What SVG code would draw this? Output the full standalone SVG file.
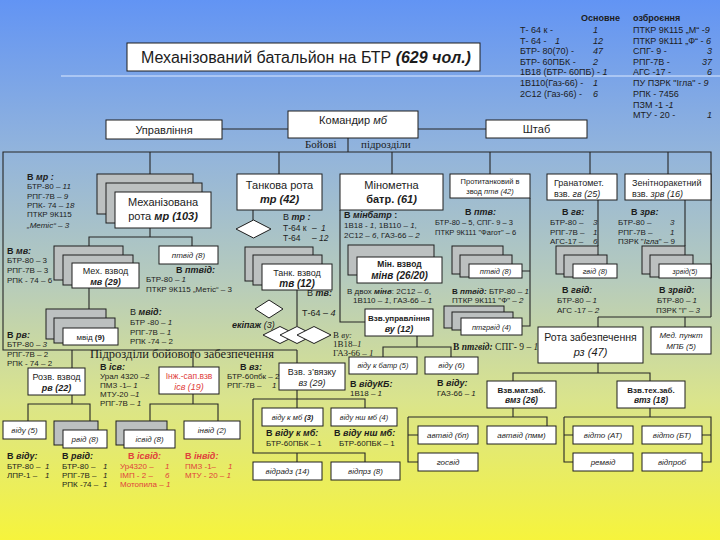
<svg xmlns="http://www.w3.org/2000/svg" width="720" height="540" viewBox="0 0 720 540">
<defs>
<linearGradient id="bg" x1="0" y1="0" x2="0" y2="1">
<stop offset="0" stop-color="#6294f4"/>
<stop offset="0.28" stop-color="#92b4dc"/>
<stop offset="0.52" stop-color="#b6cbbc"/>
<stop offset="0.74" stop-color="#dae48c"/>
<stop offset="1" stop-color="#f6f43c"/>
</linearGradient>
<style>
text{font-family:"Liberation Sans",Arial,sans-serif;fill:#1c1c1c;font-size:8px}
.sr{font-family:"Liberation Serif","Times New Roman",serif}
.bx{fill:#fff;stroke:#1e1e1e;stroke-width:1}
.gx{fill:#bcc0c0;stroke:#1e1e1e;stroke-width:1}
.ln{fill:none;stroke:#262626;stroke-width:1.1}
.dm{fill:#fff;stroke:#1e1e1e;stroke-width:1}
.c{text-anchor:middle}
.e{text-anchor:end}
.b{font-weight:bold}
.i{font-style:italic}
.bi{font-weight:bold;font-style:italic}
.r{fill:#e0403c}
.f7{font-size:7.5px}
.f9{font-size:9px}
.f10{font-size:10px}
.f11{font-size:11px}
</style>
</defs>
<rect width="720" height="540" fill="url(#bg)"/>
<path d="M61,76H720" stroke="#dce9ff" stroke-width="1" fill="none"/>

<g id="title">
<rect class="bx" x="127" y="43" width="353" height="28" stroke-width="1.4"/>
<text x="141" y="63" style="font-size:16px">Механізований батальйон на БТР <tspan class="bi">(629 чол.)</tspan></text>
</g>

<g id="armament">
<text x="581" y="21" class="b f9">Основне</text>
<text x="633" y="21" class="b f9">озброєння</text>
<text x="520" y="33" class="f9">Т- 64 к -<tspan x="593" class="i">1</tspan></text>
<text x="520" y="43.5" class="f9">Т- 64 -<tspan x="555" class="i">1</tspan><tspan x="593" class="i">12</tspan></text>
<text x="520" y="54" class="f9">БТР- 80(70) -<tspan x="593" class="i">47</tspan></text>
<text x="520" y="64.5" class="f9">БТР- 60ПБК -<tspan x="593" class="i">2</tspan></text>
<text x="520" y="75" class="f9">1В18 (БТР- 60ПБ) - <tspan class="i">1</tspan></text>
<text x="520" y="86" class="f9">1В110(Газ-66) -<tspan x="593" class="i">1</tspan></text>
<text x="520" y="97" class="f9">2С12 (Газ-66) -<tspan x="593" class="i">6</tspan></text>
<text x="633" y="33" class="f9">ПТКР 9К115 „М“ -<tspan class="i">9</tspan></text>
<text x="633" y="43.5" class="f9">ПТКР 9К111 „Ф“ - <tspan class="i">6</tspan></text>
<text x="633" y="54" class="f9">СПГ- 9 -</text><text x="712" y="54" class="f9 e i">3</text>
<text x="633" y="64.5" class="f9">РПГ-7В -</text><text x="712" y="64.5" class="f9 e i">37</text>
<text x="633" y="75" class="f9">АГС -17 -</text><text x="712" y="75" class="f9 e i">6</text>
<text x="633" y="86" class="f9">ПУ ПЗРК "Ігла" - <tspan class="i">9</tspan></text>
<text x="633" y="97" class="f9">РПК - 7456</text>
<text x="633" y="107.5" class="f9">ПЗМ -1 -<tspan class="i">1</tspan></text>
<text x="633" y="118" class="f9">МТУ - 20 -</text><text x="712" y="118" class="f9 e i">1</text>
</g>

<g id="connectors" class="ln">
<path d="M222,129H288M418,129H486"/>
<path d="M348,138V152"/>
<path d="M297,350H3V152H711V317"/>
<path d="M150,152V174M279,152V174M392,152V174M490,152V174M590,152V174M668,152V174"/>
<path d="M150,228V237M89,246V237H192V246"/>
<path d="M89,288V309"/>
<path d="M253,210V220"/>
<path d="M297,290V326"/>
<path d="M340,210V322H365"/>
<path d="M417,336V347M383,357V347H451V357"/>
<path d="M530,198V326H522M522,271H530"/>
<path d="M598,200V246"/>
<path d="M685,200V246"/>
<path d="M598,317H711M598,317V327M685,317V327"/>
<path d="M598,363V373M513,381V373H650V381"/>
<path d="M513,408V417M408,417H547V426M408,417V462H418M408,435H418"/>
<path d="M650,408V417M564,417H711V462H702M711,435H702M564,417V462H573M564,435H573"/>
<path d="M72,350V368M193,350V367M297,350V363"/>
<path d="M72,395V404M28,421V404H90V421"/>
<path d="M193,394V404M150,421V404H218V421"/>
<path d="M297,390V399M297,399V408M253,399H365V408M253,399V453H365V462M297,453V462"/>
</g>

<g id="kmb">
<rect class="bx" x="288" y="111" width="130" height="27"/>
<text class="c f11" x="353" y="124">Командир <tspan class="i">мб</tspan></text>
</g>
<g id="upr">
<rect class="bx" x="106" y="120" width="116" height="19"/>
<text class="c f11" x="164" y="133.5">Управління</text>
</g>
<g id="shtab">
<rect class="bx" x="486" y="120" width="101" height="18"/>
<text class="c f11" x="536.5" y="133">Штаб</text>
</g>
<g id="lbl-boiovi">
<text class="sr" x="305" y="148" style="font-size:11px">Бойові</text>
<text class="sr" x="361" y="148" style="font-size:11px">підрозділи</text>
</g>

<g id="mr">
<rect class="gx" x="97" y="174" width="96" height="40"/>
<rect class="gx" x="106" y="183" width="96" height="40"/>
<rect class="bx" x="115" y="192" width="96" height="36"/>
<text class="c f11" x="163" y="206">Механізована</text>
<text class="c f11" x="163" y="220">рота <tspan class="bi">мр (103)</tspan></text>
</g>
<g id="mr-notes">
<text x="27" y="180" class="f9"><tspan class="b">В </tspan><tspan class="bi">мр :</tspan></text>
<text x="27" y="189">БТР-80 – <tspan class="i">11</tspan></text>
<text x="27" y="199">РПГ-7В – <tspan class="i">9</tspan></text>
<text x="27" y="208">РПК- 74 – <tspan class="i">18</tspan></text>
<text x="27" y="217">ПТКР 9К115</text>
<text x="27" y="228"><tspan class="i">„Метіс“</tspan> – <tspan class="i">3</tspan></text>
<text x="7" y="254" class="f9"><tspan class="b">В </tspan><tspan class="bi">мв:</tspan></text>
<text x="7" y="263">БТР-80 – 3</text>
<text x="7" y="273">РПГ-7В – 3</text>
<text x="7" y="283">РПК - 74 – 6</text>
<text x="176" y="273" class="f9"><tspan class="b">В </tspan><tspan class="bi">птвід:</tspan></text>
<text x="146" y="282">БТР-80 – <tspan class="i">1</tspan></text>
<text x="146" y="292">ПТКР 9К115 „Метіс“ – 3</text>
<text x="130" y="315" class="f9">В <tspan class="bi">мвід:</tspan></text>
<text x="130" y="325">БТР -80 – <tspan class="i">1</tspan></text>
<text x="130" y="334.5">РПГ-7В – <tspan class="i">1</tspan></text>
<text x="130" y="344">РПК -74 – 2</text>
<text x="7" y="338" class="f9"><tspan class="b">В </tspan><tspan class="bi">рв:</tspan></text>
<text x="7" y="347">БТР-80 – <tspan class="i">3</tspan></text>
<text x="7" y="357">РПГ-7В – 2</text>
<text x="7" y="366">РПК - 74 – 2</text>
</g>
<g id="mv">
<rect class="gx" x="54" y="246" width="69" height="34"/>
<rect class="gx" x="63" y="255" width="70" height="30"/>
<rect class="bx" x="72" y="263" width="67" height="25"/>
<text class="c f9" x="105.5" y="274">Мех. взвод</text>
<text class="c f9 bi" x="105.5" y="285">мв (29)</text>
</g>
<g id="ptvid-mr">
<rect class="bx" x="159" y="246" width="59" height="18"/>
<text class="c i" x="188.5" y="258">птвід (8)</text>
</g>
<g id="mvid">
<rect class="gx" x="46" y="309" width="60" height="30"/>
<rect class="gx" x="54" y="318" width="61" height="25"/>
<rect class="bx" x="63" y="328" width="55" height="17"/>
<text class="c" x="90.5" y="339.5">мвід <tspan class="b">(9)</tspan></text>
</g>

<g id="tr">
<rect class="bx" x="237" y="174" width="85" height="36"/>
<text class="c f11" x="279.5" y="189">Танкова рота</text>
<text class="c f11 bi" x="279.5" y="203">тр (42)</text>
</g>
<g id="tr-tank"><polygon class="dm" points="236,229 253.5,220 271,229 253.5,238"/></g>
<g id="tr-notes">
<text x="283" y="220" class="f9">В <tspan class="bi">тр :</tspan></text>
<text x="283" y="230.5" style="font-size:8.5px">Т-64 к<tspan x="312">–</tspan><tspan x="321" class="i">1</tspan></text>
<text x="283" y="240.5" style="font-size:8.5px">Т-64<tspan x="312">–</tspan><tspan x="319" class="i">12</tspan></text>
<text x="307" y="296" class="f9">В <tspan class="bi">тв:</tspan></text>
<text x="302" y="316" class="f9">Т-64 – <tspan class="i">4</tspan></text>
<text x="232" y="328" class="f9"><tspan class="bi">екіпаж</tspan> <tspan class="i">(3)</tspan></text>
<text x="333" y="338" class="sr f9">В <tspan class="i">ву:</tspan></text>
<text x="333" y="347" class="sr f9">1В18–<tspan class="i">1</tspan></text>
<text x="333" y="356" class="sr f9">ГАЗ-66 – <tspan class="i">1</tspan></text>
</g>
<g id="tv">
<rect class="gx" x="245" y="247" width="68" height="34"/>
<rect class="gx" x="253" y="255" width="69" height="30"/>
<rect class="bx" x="262" y="264" width="70" height="26"/>
<text class="c f9" x="297" y="276">Танк. взвод</text>
<text class="c f10 bi" x="297" y="287">тв (12)</text>
</g>
<g id="tank-crew">
<polygon class="dm" points="255,309 269,300 283,309 269,318"/>
<polygon class="dm" points="263,335 280,326.5 297,335 280,343.5"/>
<polygon class="dm" points="280,335 297,326.5 314,335 297,343.5"/>
<polygon class="dm" points="297,335 314,326.5 331,335 314,343.5"/>
</g>

<g id="minbatr">
<rect class="bx" x="340" y="174" width="103" height="36"/>
<text class="c f11" x="391.5" y="189">Мінометна</text>
<text class="c f11" x="391.5" y="203"><tspan class="b">батр.</tspan> <tspan class="bi">(61)</tspan></text>
</g>
<g id="minbatr-notes">
<text x="344" y="218" class="f9"><tspan class="b">В </tspan><tspan class="bi">мінбатр</tspan><tspan class="b"> :</tspan></text>
<text x="344" y="228">1В18 - <tspan class="i">1</tspan>, 1В110 – <tspan class="i">1</tspan>,</text>
<text x="344" y="238">2С12 – <tspan class="i">6</tspan>, ГАЗ-66 – <tspan class="i">2</tspan></text>
<text x="347" y="294">В двох <tspan class="bi">мінв</tspan>: 2С12 – <tspan class="i">6</tspan>,</text>
<text x="353" y="303">1В110 – <tspan class="i">1</tspan>, ГАЗ-66 – <tspan class="i">1</tspan></text>
<text x="350" y="387" class="f9"><tspan class="b">В </tspan><tspan class="bi">відуКБ:</tspan></text>
<text x="350" y="396">1В18 – <tspan class="i">1</tspan></text>
<text x="437" y="386" class="f9"><tspan class="b">В </tspan><tspan class="bi">віду:</tspan></text>
<text x="437" y="396">ГАЗ-66 – <tspan class="i">1</tspan></text>
</g>
<g id="minv">
<rect class="gx" x="348" y="245" width="86" height="30"/>
<rect class="bx" x="357" y="257" width="85" height="26"/>
<text class="c b" x="399.5" y="267" style="font-size:8.5px">Мін. взвод</text>
<text class="c f10 bi" x="399.5" y="279">мінв (26/20)</text>
</g>
<g id="vu">
<rect class="bx" x="365" y="309" width="68" height="27"/>
<text class="c b" x="399" y="320.5" style="font-size:8px">Взв.управління</text>
<text class="c f9 bi" x="399" y="331.5">ву (12)</text>
</g>
<g id="vid-k-batr">
<rect class="bx" x="349" y="357" width="68" height="17"/>
<text class="c i f7" x="383" y="368">віду к батр (5)</text>
</g>
<g id="vidu6">
<rect class="bx" x="425" y="357" width="53" height="17"/>
<text class="c i" x="451.5" y="368">віду (6)</text>
</g>

<g id="ptv">
<rect class="bx" x="450" y="174" width="80" height="24"/>
<text class="c f7" x="490" y="184">Протитанковий в</text>
<text class="c f7" x="490" y="194">звод <tspan class="i">птв (42)</tspan></text>
</g>
<g id="ptv-notes">
<text x="465" y="215" class="f9"><tspan class="b">В </tspan><tspan class="bi">птв:</tspan></text>
<text x="435" y="225" class="f7">БТР-80 – 5, СПГ- 9 – 3</text>
<text x="435" y="234.5" class="f7">ПТКР 9К111 "Фагот" – 6</text>
<text x="452" y="294"><tspan class="b">В </tspan><tspan class="bi">птвід:</tspan> БТР-80 – <tspan class="i">1</tspan></text>
<text x="452" y="303">ПТКР 9К111 "Ф" – <tspan class="i">2</tspan></text>
<text x="453" y="350" class="sr" style="font-size:9.5px"><tspan class="b">В </tspan><tspan class="bi">птгвід:</tspan> СПГ- 9 – <tspan class="i">1</tspan></text>
</g>
<g id="ptvid">
<rect class="gx" x="452" y="246" width="51" height="28"/>
<rect class="gx" x="460" y="255" width="52" height="22"/>
<rect class="bx" x="469" y="264" width="53" height="14"/>
<text class="c i f7" x="495.5" y="273.5">птвід (8)</text>
</g>
<g id="ptgrvid">
<rect class="gx" x="444" y="306" width="60" height="22"/>
<rect class="gx" x="452" y="312" width="61" height="18"/>
<rect class="bx" x="461" y="318" width="61" height="17"/>
<text class="c i f7" x="491.5" y="329.5">птгрвід (4)</text>
</g>

<g id="gv">
<rect class="bx" x="547" y="174" width="70" height="26"/>
<text x="554" y="186" class="f9">Гранатомет.</text>
<text x="554" y="197" class="f9">взв. <tspan class="i">гв (25)</tspan></text>
</g>
<g id="gv-notes">
<text x="562" y="215" class="f9"><tspan class="b">В </tspan><tspan class="bi">гв:</tspan></text>
<text x="550" y="225">БТР-80 –<tspan x="593" class="i">3</tspan></text>
<text x="550" y="234.5">РПГ-7В –<tspan x="593" class="i">1</tspan></text>
<text x="550" y="244">АГС-17 –<tspan x="593" class="i">6</tspan></text>
<text x="562" y="293" class="f9"><tspan class="b">В </tspan><tspan class="bi">гвід:</tspan></text>
<text x="557" y="303">БТР-80 – <tspan class="i">1</tspan></text>
<text x="557" y="313">АГС -17 – <tspan class="i">2</tspan></text>
</g>
<g id="gvid">
<rect class="gx" x="556" y="246" width="42" height="28"/>
<rect class="gx" x="564" y="255" width="43" height="22"/>
<rect class="bx" x="573" y="264" width="44" height="14"/>
<text class="c i f7" x="595" y="274">гвід (8)</text>
</g>

<g id="zrv">
<rect class="bx" x="625" y="174" width="86" height="26"/>
<text x="632" y="186" class="f9">Зенітноракетний</text>
<text x="632" y="197" class="f9">взв. <tspan class="i">зрв (16)</tspan></text>
</g>
<g id="zrv-notes">
<text x="631" y="215" class="f9"><tspan class="b">В </tspan><tspan class="bi">зрв:</tspan></text>
<text x="618" y="225">БТР-80 –<tspan x="670" class="i">3</tspan></text>
<text x="618" y="234.5">РПГ-7В –<tspan x="670" class="i">1</tspan></text>
<text x="618" y="244">ПЗРК "<tspan class="i">Ігла</tspan>" – 9</text>
<text x="659" y="293" class="f9"><tspan class="b">В </tspan><tspan class="bi">зрвід:</tspan></text>
<text x="657" y="303">БТР-80 – <tspan class="i">1</tspan></text>
<text x="656" y="313">ПЗРК "І" – <tspan class="i">3</tspan></text>
</g>
<g id="zrvid">
<rect class="gx" x="642" y="246" width="43" height="28"/>
<rect class="gx" x="650" y="255" width="43" height="22"/>
<rect class="bx" x="659" y="264" width="52" height="14"/>
<text class="c i" x="685" y="274" style="font-size:7px">зрвід(5)</text>
</g>

<g id="rz">
<rect class="bx" x="538" y="327" width="105" height="36"/>
<text class="c" x="590.5" y="341" style="font-size:10.5px">Рота забезпечення</text>
<text class="c i f11" x="590.5" y="356">рз (47)</text>
</g>
<g id="mpb">
<rect class="bx" x="651" y="327" width="60" height="27"/>
<text class="c i" x="681" y="338">Мед. пункт</text>
<text class="c i" x="681" y="349">МПБ (5)</text>
</g>
<g id="vmz">
<rect class="bx" x="487" y="381" width="69" height="27"/>
<text class="c b" x="521.5" y="392.5">Взв.мат.заб.</text>
<text class="c bi" x="521.5" y="403" style="font-size:8.5px">вмз (26)</text>
</g>
<g id="vtz">
<rect class="bx" x="617" y="381" width="68" height="27"/>
<text class="c b" x="651" y="392.5">Взв.тех.заб.</text>
<text class="c bi" x="651" y="403" style="font-size:8.5px">втз (18)</text>
</g>
<g id="avtvid-bp"><rect class="bx" x="418" y="426" width="60" height="18"/><text class="c i" x="448" y="438">автвід (бп)</text></g>
<g id="gosvid"><rect class="bx" x="418" y="453" width="60" height="18"/><text class="c i" x="448" y="465">госвід</text></g>
<g id="avtvid-pmm"><rect class="bx" x="487" y="426" width="69" height="18"/><text class="c i" x="521.5" y="438">автвід (пмм)</text></g>
<g id="vidto-at"><rect class="bx" x="573" y="426" width="60" height="18"/><text class="c i" x="603" y="438">відто (АТ)</text></g>
<g id="vidto-bt"><rect class="bx" x="642" y="426" width="60" height="18"/><text class="c i" x="672" y="438">відто (БТ)</text></g>
<g id="remvid"><rect class="bx" x="573" y="453" width="60" height="18"/><text class="c i" x="603" y="465">ремвід</text></g>
<g id="vidprob"><rect class="bx" x="642" y="453" width="60" height="18"/><text class="c i" x="672" y="465">відпроб</text></g>

<g id="lbl-support">
<text class="sr" x="90" y="357.5" style="font-size:12.5px">Підрозділи бойового забезпечення</text>
</g>
<g id="rv">
<rect class="bx" x="28" y="368" width="57" height="27"/>
<text class="c f9" x="56.5" y="379.5">Розв. взвод</text>
<text class="c f9 bi" x="56.5" y="390.5">рв (22)</text>
</g>
<g id="vidu5"><rect class="bx" x="3" y="421" width="43" height="18"/><text class="c i" x="24.5" y="433">віду (5)</text></g>
<g id="rvid">
<rect class="gx" x="54" y="421" width="44" height="24"/>
<rect class="bx" x="63" y="430" width="44" height="18"/>
<text class="c i" x="85" y="442">рвід (8)</text>
</g>
<g id="isv">
<rect class="bx" x="159" y="367" width="60" height="27"/>
<text class="c r" x="189" y="378.5" style="font-size:8.5px">Інж.-сап.взв</text>
<text class="c r i f9" x="189" y="390">ісв (19)</text>
</g>
<g id="isvid">
<rect class="gx" x="116" y="421" width="51" height="24"/>
<rect class="bx" x="124" y="430" width="51" height="18"/>
<text class="c i" x="149.5" y="442">ісвід (8)</text>
</g>
<g id="invid"><rect class="bx" x="184" y="421" width="56" height="18"/><text class="c i" x="212" y="433">інвід (2)</text></g>
<g id="vz">
<rect class="bx" x="279" y="363" width="66" height="27"/>
<text class="c f9" x="312" y="374.5">Взв. з’вязку</text>
<text class="c f9 i" x="312" y="385.5">вз (29)</text>
</g>
<g id="vidu-k-mb"><rect class="bx" x="262" y="408" width="61" height="18"/><text class="c i f7" x="292.5" y="420">віду к мб <tspan class="b">(3)</tspan></text></g>
<g id="vidu-nsh-mb"><rect class="bx" x="331" y="408" width="66" height="18"/><text class="c i f7" x="364" y="420">віду нш мб (4)</text></g>
<g id="vidradz"><rect class="bx" x="253" y="462" width="69" height="18"/><text class="c i" x="287.5" y="474">відрадз (14)</text></g>
<g id="vidprz"><rect class="bx" x="331" y="462" width="69" height="18"/><text class="c i" x="365.5" y="474">відпрз (8)</text></g>

<g id="support-notes">
<text x="7" y="459" class="f9"><tspan class="b">В </tspan><tspan class="bi">віду:</tspan></text>
<text x="7" y="469">БТР-80 –<tspan x="45" class="i">1</tspan></text>
<text x="7" y="478">ЛПР-1 –<tspan x="45" class="i">1</tspan></text>
<text x="62" y="459" class="f9"><tspan class="b">В </tspan><tspan class="bi">рвід:</tspan></text>
<text x="62" y="469">БТР-80 –<tspan x="103" class="i">1</tspan></text>
<text x="62" y="478">РПГ-7В –<tspan x="103" class="i">1</tspan></text>
<text x="62" y="487">РПК -74 –<tspan x="103" class="i">1</tspan></text>
<text x="100" y="369.5" class="f9"><tspan class="b">В </tspan><tspan class="bi">ісв:</tspan></text>
<text x="100" y="378.5">Урал 4320 –2</text>
<text x="100" y="387.5">ПМЗ -1– <tspan class="i">1</tspan></text>
<text x="100" y="396.5">МТУ-20 –<tspan class="i">1</tspan></text>
<text x="100" y="405.5">РПГ-7В – <tspan class="i">1</tspan></text>
<text x="128" y="459" class="f9 r"><tspan class="b">В </tspan><tspan class="bi">ісвід:</tspan></text>
<text x="120" y="469" class="r">Ур4320 –<tspan x="165" class="i">1</tspan></text>
<text x="120" y="478" class="r">ІМП - 2 –<tspan x="165" class="i">6</tspan></text>
<text x="120" y="487" class="r">Мотопила – <tspan class="i">1</tspan></text>
<text x="185" y="459" class="f9 r"><tspan class="b">В </tspan><tspan class="bi">інвід:</tspan></text>
<text x="185" y="469" class="r">ПМЗ -1–<tspan x="228" class="i">1</tspan></text>
<text x="185" y="478" class="r">МТУ - 20 – <tspan class="i">1</tspan></text>
<text x="240" y="369.5" class="f9"><tspan class="b">В </tspan><tspan class="bi">вз:</tspan></text>
<text x="227" y="378.5">БТР-60пбк – 2</text>
<text x="227" y="387.5">РПГ-7В –<tspan x="272" class="i">1</tspan></text>
<text x="266" y="436" class="f9"><tspan class="b">В </tspan><tspan class="bi">віду к мб:</tspan></text>
<text x="266" y="446">БТР-60ПБК – 1</text>
<text x="334" y="436" class="f9"><tspan class="b">В </tspan><tspan class="bi">віду нш мб:</tspan></text>
<text x="339" y="446">БТР-60ПБК – 1</text>
</g>
</svg>
